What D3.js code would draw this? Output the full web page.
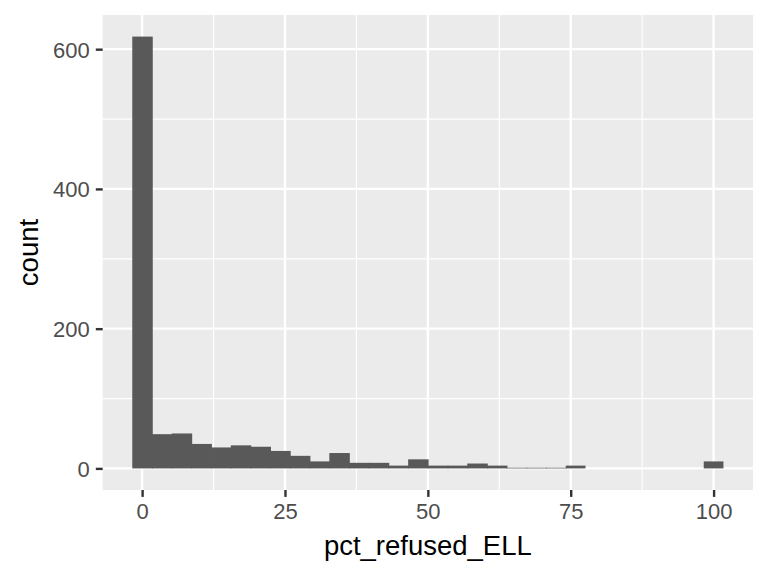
<!DOCTYPE html>
<html><head><meta charset="utf-8">
<script src="https://cdn.jsdelivr.net/npm/d3@7"></script>
<style>body{margin:0;background:#fff}svg{display:block}text{font-family:"Liberation Sans",Arial,sans-serif}</style>
</head><body><svg id="c" width="768" height="576"></svg>
<script>
const binWidth = 100/29;
const binCenters = d3.range(30).map(i => i*binWidth);
const counts = [618,49,50,35,30,33,31,25,18,10,22,8,8,4,13,4,4,7,4,1,1,1,4,0,0,0,0,0,0,10];
const xTicks = [0,25,50,75,100];
const xMinor = [12.5,37.5,62.5,87.5];
const yTicks = [0,200,400,600];
const yMinor = [100,300,500];
const xLabel = "pct_refused_ELL", yLabel = "count";

const svg = d3.select("#c");
const L=102.7, R=753, T=15, B=490;
const x0 = -binWidth/2, x1 = 100+binWidth/2, xe=(x1-x0)*0.05;
const ymax = d3.max(counts), ye = ymax*0.05;
const x = d3.scaleLinear().domain([x0-xe, x1+xe]).range([L,R]);
const y = d3.scaleLinear().domain([-ye, ymax+ye]).range([B,T]);

svg.append("rect").attr("x",L).attr("y",T).attr("width",R-L).attr("height",B-T).attr("fill","#EBEBEB");
const g = svg.append("g");
xMinor.forEach(v=>g.append("line").attr("x1",x(v)).attr("x2",x(v)).attr("y1",T).attr("y2",B).attr("stroke","#fff").attr("stroke-width",1.2));
yMinor.forEach(v=>g.append("line").attr("y1",y(v)).attr("y2",y(v)).attr("x1",L).attr("x2",R).attr("stroke","#fff").attr("stroke-width",1.2));
xTicks.forEach(v=>g.append("line").attr("x1",x(v)).attr("x2",x(v)).attr("y1",T).attr("y2",B).attr("stroke","#fff").attr("stroke-width",2.4));
yTicks.forEach(v=>g.append("line").attr("y1",y(v)).attr("y2",y(v)).attr("x1",L).attr("x2",R).attr("stroke","#fff").attr("stroke-width",2.4));

const bins = binCenters.map((c,i)=>({c,n:counts[i],last:i===counts.length-1||counts[i+1]===0})).filter(d=>d.n>0);
svg.append("g").selectAll("rect").data(bins)
  .join("rect")
  .attr("x",d=>x(d.c-binWidth/2))
  .attr("width",d=>x(d.c+binWidth/2)-x(d.c-binWidth/2)+(d.last?0:0.8))
  .attr("y",d=>y(d.n)).attr("height",d=>y(0)-y(d.n)).attr("fill","#595959");

const xa = svg.append("g").attr("transform",`translate(0,${B})`)
  .call(d3.axisBottom(x).tickValues(xTicks).tickSize(6.9).tickPadding(5.5));
const ya = svg.append("g").attr("transform",`translate(${L},0)`)
  .call(d3.axisLeft(y).tickValues(yTicks).tickSize(6.9).tickPadding(6));
[xa,ya].forEach(a=>{a.select(".domain").remove();
  a.selectAll(".tick line").attr("stroke","#333").attr("stroke-width",2.4);
  a.selectAll(".tick text").attr("fill","#4D4D4D").attr("font-size",22).attr("font-family","'Liberation Sans',Arial,sans-serif");});
xa.selectAll(".tick text").attr("y",28.5).attr("dy",0);
ya.selectAll(".tick text").attr("dy","0.36em");

svg.append("text").attr("x",(L+R)/2).attr("y",555).attr("text-anchor","middle").attr("font-size",27.5).attr("fill","#000").text(xLabel);
svg.append("text").attr("transform",`translate(38.3,${(T+B)/2}) rotate(-90)`).attr("text-anchor","middle").attr("font-size",27.5).attr("fill","#000").text(yLabel);
</script></body></html>
